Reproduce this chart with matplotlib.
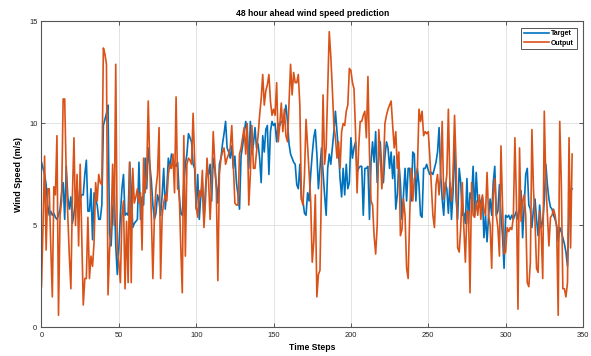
import numpy as np
import matplotlib
matplotlib.use('Agg')
import matplotlib.pyplot as plt

plt.rcParams['font.family'] = ['Liberation Sans', 'DejaVu Sans']

titulo = '48 hour ahead wind speed prediction'
etiquetas = ['Target', 'Output']

target = [8.1, 7.8, 7.5, 7.0, 6.0, 5.5, 5.7, 5.5, 5.6, 5.4,
          5.3, 5.5, 5.8, 6.6, 7.1, 5.3, 7.9, 6.4, 5.8, 6.4,
          5.1, 5.6, 6.2, 6.9, 6.0, 6.3, 6.5, 6.5, 7.5, 8.2,
          5.7, 5.7, 6.8, 4.3, 6.6, 6.3, 6.0, 5.3, 5.3, 6.0,
          9.9, 10.2, 10.5, 10.9, 4.6, 4.0, 5.7, 6.8, 4.0, 2.6,
          3.9, 5.5, 6.8, 7.5, 5.5, 5.6, 5.5, 8.1, 6.8, 4.9,
          5.1, 5.2, 5.3, 8.1, 5.3, 6.4, 6.0, 8.3, 6.8, 8.8,
          8.0, 7.2, 6.0, 5.3, 5.6, 6.5, 6.2, 5.5, 6.5, 7.8,
          5.8, 6.8, 8.3, 7.8, 8.5, 8.3, 8.0, 7.9, 8.1, 6.5,
          5.6, 5.5, 7.0, 8.0, 8.5, 9.5, 9.3, 9.1, 8.0, 7.8,
          5.8, 7.5, 5.3, 6.5, 7.1, 5.2, 6.8, 7.8, 7.5, 8.0,
          6.2, 8.3, 7.8, 7.0, 6.1, 8.0, 8.3, 9.0, 9.5, 10.1,
          8.8, 8.6, 8.3, 8.9, 7.8, 8.4, 7.1, 6.5, 5.8, 8.4,
          8.9, 9.5, 10.1, 9.6, 7.8, 10.1, 8.5, 9.0, 9.8, 8.8,
          9.0, 8.3, 7.1, 9.4, 8.6, 9.7, 9.9, 7.5, 9.6, 10.1,
          9.9, 10.0, 9.1, 10.0, 9.9, 10.1, 10.1, 10.4, 10.9, 10.1,
          9.0, 8.5, 8.3, 8.1, 8.0, 7.0, 6.8, 8.0, 6.3, 6.2,
          5.6, 5.5, 6.6, 6.2, 7.5, 8.5, 9.3, 9.7, 8.5, 6.8,
          7.8, 8.8, 7.6, 6.5, 5.5, 7.8, 8.5, 8.0, 8.8, 9.6,
          10.6, 9.6, 8.6, 7.3, 6.4, 7.8, 6.5, 8.0, 6.8, 7.1,
          9.3, 8.3, 8.8, 9.1, 7.6, 7.8, 7.9, 7.9, 5.5, 7.8,
          7.8, 7.9, 5.3, 8.1, 9.1, 8.1, 9.6, 7.1, 8.3, 9.1,
          7.6, 7.1, 8.4, 9.1, 8.8, 7.8, 8.6, 7.3, 8.4, 5.8,
          6.5, 8.1, 7.1, 5.3, 6.5, 7.8, 6.2, 7.8, 7.8, 6.2,
          8.6, 8.5, 6.2, 7.8, 7.0, 5.5, 5.4, 7.8, 7.8, 8.0,
          7.7, 7.5, 7.6, 7.5, 7.8, 8.1, 8.6, 9.8, 7.5, 6.3,
          5.5, 7.1, 6.8, 5.6, 7.1, 5.3, 6.6, 9.4, 6.3, 5.3,
          7.8, 7.1, 5.5, 5.6, 5.1, 7.3, 5.1, 6.6, 6.3, 7.9,
          5.5, 7.6, 6.2, 5.9, 6.2, 6.4, 4.4, 5.5, 4.2, 5.5,
          6.3, 5.5, 7.1, 7.9, 5.5, 5.7, 7.0, 5.5, 4.5, 2.9,
          5.5, 5.4, 5.5, 5.3, 5.5, 5.3, 5.5, 5.7, 5.3, 5.8,
          6.7, 4.4, 6.0, 7.5, 7.8, 6.0, 5.8, 4.9, 5.8, 6.3,
          5.3, 4.5, 6.0, 4.9, 5.2, 6.2, 8.0, 7.0, 6.3, 5.9,
          5.8, 5.5, 5.3, 5.0, 4.2, 4.9, 4.7, 4.4, 4.1, 3.7,
          3.0, 5.5, 6.7, 6.8]

output = [2.0, 5.0, 8.4, 3.8, 6.8, 6.8, 4.0, 1.5, 6.9, 6.5,
          9.4, 0.6, 5.5, 6.2, 11.2, 11.2, 7.5, 5.5, 3.5, 1.9,
          6.5, 9.3, 5.0, 7.5, 4.0, 8.0, 4.5, 1.1, 2.4, 2.4,
          5.4, 2.4, 3.5, 3.0, 4.2, 7.1, 6.2, 7.5, 7.1, 7.0,
          13.7, 13.4, 12.9, 1.6, 3.8, 5.0, 8.0, 5.0, 12.9, 3.8,
          3.2, 2.2, 5.5, 6.2, 1.9, 5.2, 2.2, 8.1, 2.2, 7.8,
          6.1, 6.4, 6.8, 6.1, 6.6, 3.8, 8.3, 6.6, 7.5, 11.1,
          8.0, 5.5, 2.4, 5.5, 6.8, 7.5, 9.8, 2.4, 5.5, 6.1,
          6.5, 6.2, 7.5, 8.0, 7.8, 8.5, 6.6, 11.3, 6.8, 6.7,
          4.0, 1.7, 9.4, 3.5, 8.0, 8.3, 8.2, 8.0, 10.5, 8.2,
          5.9, 5.4, 6.7, 6.4, 7.7, 4.9, 6.2, 8.3, 7.2, 5.3,
          7.0, 9.6, 8.1, 6.8, 2.3, 7.5, 8.3, 8.6, 8.8, 8.0,
          8.3, 8.5, 8.8, 9.9, 8.0, 6.1, 6.0, 6.0, 8.5, 8.8,
          9.3, 9.8, 8.5, 10.0, 6.0, 7.5, 9.9, 7.8, 7.8, 8.6,
          9.4, 10.4, 11.2, 12.4, 10.9, 11.6, 11.9, 12.4, 11.1, 10.4,
          10.7, 10.4, 12.0, 9.1, 9.9, 11.0, 9.6, 10.7, 9.4, 9.1,
          11.0, 12.9, 11.4, 12.5, 12.0, 12.0, 12.4, 10.9, 6.3, 6.0,
          7.5, 10.2, 8.9, 7.5, 6.2, 3.2, 4.2, 6.5, 1.5, 2.6,
          2.8, 7.1, 11.4, 8.0, 8.8, 11.6, 14.5, 13.3, 11.7, 9.9,
          9.3, 8.3, 9.1, 7.8, 9.6, 10.0, 9.9, 10.6, 10.9, 12.7,
          12.6, 12.0, 11.7, 9.6, 6.6, 8.8, 10.1, 10.1, 10.4, 10.6,
          9.3, 12.3, 8.5, 6.2, 6.0, 4.5, 3.6, 5.0, 9.7, 8.5,
          6.8, 7.8, 10.0, 10.4, 10.7, 10.9, 11.1, 9.9, 8.8, 9.6,
          7.8, 8.6, 4.5, 4.8, 6.3, 5.5, 2.9, 2.4, 5.5, 7.8,
          6.2, 7.3, 7.5, 7.8, 10.7, 10.1, 10.6, 9.4, 9.6, 9.5,
          9.6, 8.4, 7.0, 5.5, 4.9, 7.0, 7.5, 6.5, 7.6, 10.1,
          6.3, 6.8, 7.5, 10.7, 7.1, 6.2, 7.5, 10.4, 8.0, 3.9,
          3.7, 4.9, 7.1, 4.9, 3.2, 5.7, 5.7, 1.7, 7.1, 5.5,
          5.4, 6.2, 5.5, 6.5, 5.3, 6.5, 5.8, 5.5, 7.6, 5.5,
          5.0, 2.9, 6.5, 7.3, 5.5, 4.9, 3.5, 8.9, 6.0, 3.6,
          3.7, 4.9, 4.7, 4.9, 4.8, 5.4, 9.3, 6.2, 0.9, 8.8,
          5.2, 6.2, 6.5, 5.5, 2.2, 2.0, 3.2, 9.7, 6.8, 5.2,
          2.9, 2.7, 5.7, 4.7, 2.4, 10.6, 7.1, 5.5, 4.0, 5.4,
          5.5, 5.8, 5.5, 4.9, 0.6, 10.1, 7.1, 1.9, 1.9, 1.5,
          2.2, 9.3, 3.9, 8.5]

xticks = [0, 50, 100, 150, 200, 250, 300, 350]
yticks = [0, 5, 10, 15]

fig = plt.figure(figsize=(5.91, 3.56), dpi=100)
ax = fig.add_axes([0.0702, 0.0801, 0.9162, 0.8596])

ax.plot(np.arange(len(target)), target, color='#0072BD', lw=1.2, label=etiquetas[0])
ax.plot(np.arange(len(output)), output, color='#D95319', lw=1.2, label=etiquetas[1])

ax.set_xlim(0, 350)
ax.set_ylim(0, 15)
ax.set_xticks(xticks)
ax.set_yticks(yticks)
ax.grid(True, color='#e3e3e3', lw=0.7)
ax.set_axisbelow(True)
ax.tick_params(direction='in', length=3, width=0.6, labelsize=5.4,
               top=True, right=True, colors='#404040', labelcolor='#222222', pad=3)
for s in ax.spines.values():
    s.set_color('#555555')
    s.set_linewidth(0.8)

ax.set_title(titulo, fontsize=6.2, fontweight='bold', pad=4)
ax.set_xlabel('Time Steps', fontsize=6.2, fontweight='bold', labelpad=3)
ax.set_ylabel('Wind Speed (m/s)', fontsize=6.4, fontweight='bold', labelpad=4)

leg = ax.legend(loc='upper right', prop={'weight': 'bold', 'size': 5},
                fancybox=False, edgecolor='#555555', framealpha=1,
                handlelength=3.6, handletextpad=0.3, borderpad=0.4,
                labelspacing=0.3, borderaxespad=0.9)
leg.get_frame().set_linewidth(0.7)

plt.savefig('out.png', dpi=100)
